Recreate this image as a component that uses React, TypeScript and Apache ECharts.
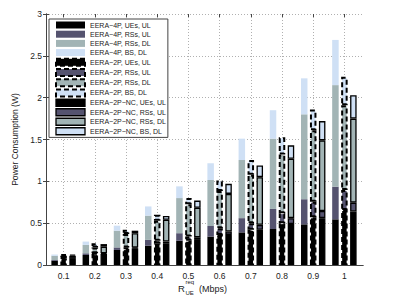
import React, { useEffect, useRef } from "react";
import * as echarts from "echarts";

const categories = ["0.1", "0.2", "0.3", "0.4", "0.5", "0.6", "0.7", "0.8", "0.9", "1"];
const yTicks = [0, 0.5, 1, 1.5, 2, 2.5, 3];

// EERA-4P
const p4UEsUL = [0.05, 0.12, 0.18, 0.23, 0.29, 0.34, 0.39, 0.43, 0.486, 0.546];
const p4RSsUL = [0.01, 0.02, 0.03, 0.07, 0.09, 0.126, 0.17, 0.24, 0.3, 0.39];
const p4RSsDL = [0.05, 0.1, 0.2, 0.29, 0.42, 0.55, 0.695, 0.84, 1.015, 1.214];
const p4BSDL = [0.015, 0.04, 0.06, 0.11, 0.14, 0.2, 0.255, 0.34, 0.43, 0.54];
// EERA-2P
const p2UEsUL = [0.08, 0.13, 0.19, 0.26, 0.29, 0.36, 0.42, 0.5, 0.57, 0.657];
const p2RSsUL = [0.005, 0.01, 0.02, 0.03, 0.05, 0.08, 0.08, 0.12, 0.187, 0.24];
const p2RSsDL = [0.025, 0.07, 0.16, 0.24, 0.385, 0.445, 0.58, 0.7, 0.853, 1.013];
const p2BSDL = [0.02, 0.05, 0.05, 0.07, 0.075, 0.125, 0.175, 0.206, 0.25, 0.34];
// EERA-2P-NC
const ncUEsUL = [0.08, 0.13, 0.2, 0.26, 0.3, 0.36, 0.42, 0.49, 0.56, 0.64];
const ncRSsUL = [0.005, 0.01, 0.01, 0.02, 0.03, 0.04, 0.06, 0.07, 0.085, 0.105];
const ncRSsDL = [0.025, 0.08, 0.17, 0.26, 0.355, 0.45, 0.57, 0.71, 0.845, 1.005];
const ncBSDL = [0.015, 0.03, 0.03, 0.045, 0.085, 0.12, 0.14, 0.16, 0.23, 0.28];

const FONT = "'Liberation Sans', Arial, Helvetica, sans-serif";
const C_UE = "#000000";
const C_RSUL = "#55536f";
const C_RSDL = "#a2b4b5";
const C_BS = "#cfe0f5";

type Group = { key: string; label: string; border: any };
const groups: Group[] = [
  { key: "4P", label: "EERA\u22124P", border: { borderWidth: 0 } },
  { key: "2P", label: "EERA\u22122P", border: { borderColor: "#000", borderWidth: 2, borderType: [5, 3] } },
  { key: "NC", label: "EERA\u22122P\u2212NC", border: { borderColor: "#000", borderWidth: 1.3, borderType: "solid" } },
];
const parts = [
  { label: "UEs, UL", color: C_UE },
  { label: "RSs, UL", color: C_RSUL },
  { label: "RSs, DL", color: C_RSDL },
  { label: "BS, DL", color: C_BS },
];
const dataMap: Record<string, number[][]> = {
  "4P": [p4UEsUL, p4RSsUL, p4RSsDL, p4BSDL],
  "2P": [p2UEsUL, p2RSsUL, p2RSsDL, p2BSDL],
  NC: [ncUEsUL, ncRSsUL, ncRSsDL, ncBSDL],
};

export default function App() {
  const ref = useRef<HTMLDivElement>(null);
  useEffect(() => {
    if (!ref.current) return;
    const chart = echarts.init(ref.current, undefined, { renderer: "svg" });
    const series: any[] = [];
    const legendData: any[] = [];
    groups.forEach((g) => {
      parts.forEach((p, i) => {
        const name = `${g.label}, ${p.label}`;
        const itemStyle = { color: p.color, ...g.border };
        series.push({
          name,
          type: "bar",
          stack: g.key,
          xAxisIndex: 2,
          yAxisIndex: 2,
          barWidth: 6.5,
          barGap: "38%",
          itemStyle,
          emphasis: { disabled: true },
          data: dataMap[g.key][i],
        });
        legendData.push({ name, itemStyle: { ...itemStyle } });
      });
    });

    const dotted = { show: true, lineStyle: { color: "#b0b0b0", width: 1, type: [1, 2] } };
    const frameLine = { show: true, lineStyle: { color: "#444", width: 1 } };

    chart.setOption({
      animation: false,
      backgroundColor: "#fff",
      textStyle: { fontFamily: FONT },
      grid: [
        { left: 46, right: 35, top: 14, bottom: 32 },
        { left: 48, right: 38, top: 14, bottom: 32 },
      ],
      legend: {
        orient: "vertical",
        left: 49,
        top: 19,
        data: legendData,
        icon: "rect",
        itemWidth: 29,
        itemHeight: 7,
        itemGap: 1.2,
        padding: [2, 2, 2, 6],
        backgroundColor: "#fff",
        borderColor: "#444",
        borderWidth: 1,
        borderRadius: 0,
        selectedMode: false,
        textStyle: { fontFamily: FONT, fontSize: 7, color: "#222", lineHeight: 8 },
        z: 10,
      },
      xAxis: [
        {
          gridIndex: 0, type: "value", position: "bottom", min: 0, max: 1,
          axisLine: frameLine, axisTick: { show: false }, axisLabel: { show: false }, splitLine: { show: false },
        },
        {
          gridIndex: 0, type: "value", position: "top", min: 0, max: 1,
          axisLine: frameLine, axisTick: { show: false }, axisLabel: { show: false }, splitLine: { show: false },
        },
        {
          gridIndex: 1, type: "category", position: "bottom", data: categories,
          axisLine: { show: false },
          axisTick: { show: true, inside: true, alignWithLabel: true, length: 3, lineStyle: { color: "#444" } },
          axisLabel: { fontFamily: FONT, fontSize: 8.5, color: "#222", margin: 6 },
          splitLine: { ...dotted, alignWithLabel: true },
        },
        {
          gridIndex: 1, type: "category", position: "top", data: categories,
          axisLine: { show: false },
          axisTick: { show: true, inside: true, alignWithLabel: true, length: 3, lineStyle: { color: "#444" } },
          axisLabel: { show: false }, splitLine: { show: false },
        },
      ],
      yAxis: [
        {
          gridIndex: 0, type: "value", position: "left", min: 0, max: 3, interval: 0.5,
          axisLine: frameLine,
          axisTick: { show: true, inside: true, length: 3, lineStyle: { color: "#444" } },
          axisLabel: { fontFamily: FONT, fontSize: 8.5, color: "#222", margin: 4,
            formatter: (v: number) => (yTicks.includes(v) ? String(v) : "") },
          splitLine: dotted,
          name: "Power Consumption (W)",
          nameLocation: "middle",
          nameGap: 21,
          nameRotate: 90,
          nameTextStyle: { fontFamily: FONT, fontSize: 8.5, color: "#222" },
        },
        {
          gridIndex: 0, type: "value", position: "right", min: 0, max: 3, interval: 0.5,
          axisLine: frameLine,
          axisTick: { show: true, inside: true, length: 3, lineStyle: { color: "#444" } },
          axisLabel: { show: false }, splitLine: { show: false },
        },
        {
          gridIndex: 1, type: "value", min: 0, max: 3, show: false,
          splitLine: { show: false },
        },
      ],
      graphic: [
        { type: "text", left: 178, top: 283.5, style: { text: "R", fontFamily: FONT, fontSize: 9.5, fill: "#222" } },
        { type: "text", left: 185.5, top: 279, style: { text: "req", fontFamily: FONT, fontSize: 6, fill: "#222" } },
        { type: "text", left: 185.5, top: 289.5, style: { text: "UE", fontFamily: FONT, fontSize: 6, fill: "#222" } },
        { type: "text", left: 199, top: 284, style: { text: "(Mbps)", fontFamily: FONT, fontSize: 9, fill: "#222" } },
      ],
      series,
    });
    return () => chart.dispose();
  }, []);
  return <div ref={ref} style={{ width: 398, height: 297, position: "absolute", left: 0, top: 0 }} />;
}
